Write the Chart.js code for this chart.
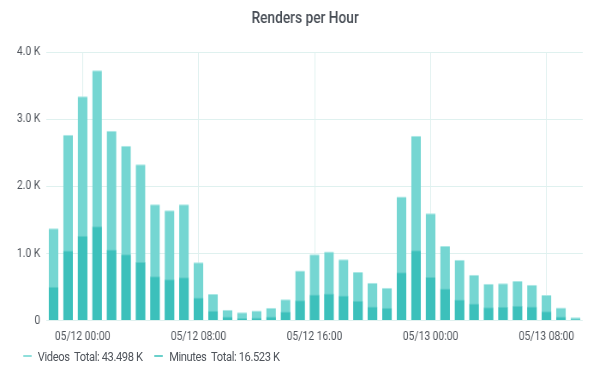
<!DOCTYPE html>
<html>
<head>
<meta charset="utf-8">
<script src="https://cdn.jsdelivr.net/npm/chart.js@4"></script>
<style>
  html, body { margin: 0; padding: 0; background: #fff; overflow: hidden; }
  /* drawn wider, then squeezed to 600px like the original panel */
  #wrap { width: 700px; height: 376px; position: relative; transform: scaleX(0.857); transform-origin: 0 0; }
  #legend {
    position: absolute; left: 27px; top: 348px; height: 16px;
    display: flex; align-items: center;
    font: 13px Roboto, sans-serif; letter-spacing: -0.45px; color: #50555c; white-space: pre;
  }
  #legend .item { display: flex; align-items: center; margin-right: 14px; }
  #legend .mark { width: 10px; height: 2px; margin-right: 7px; }
</style>
</head>
<body>
<div id="wrap">
  <canvas id="rendersChart"></canvas>
  <div id="legend"></div>
</div>
<script>
const hours = [
  "05/11 22:00", "05/11 23:00",
  "05/12 00:00", "05/12 01:00", "05/12 02:00", "05/12 03:00", "05/12 04:00", "05/12 05:00",
  "05/12 06:00", "05/12 07:00", "05/12 08:00", "05/12 09:00", "05/12 10:00", "05/12 11:00",
  "05/12 12:00", "05/12 13:00", "05/12 14:00", "05/12 15:00", "05/12 16:00", "05/12 17:00",
  "05/12 18:00", "05/12 19:00", "05/12 20:00", "05/12 21:00", "05/12 22:00", "05/12 23:00",
  "05/13 00:00", "05/13 01:00", "05/13 02:00", "05/13 03:00", "05/13 04:00", "05/13 05:00",
  "05/13 06:00", "05/13 07:00", "05/13 08:00", "05/13 09:00", "05/13 10:00"
];

const videos = [
  1375, 2770, 3345, 3730, 2830, 2605, 2330, 1735, 1645, 1735, 870, 395, 160, 125, 150, 190,
  320, 745, 990, 1030, 915, 725, 565, 490, 1850, 2755, 1600, 1110, 905, 685, 550, 555,
  590, 535, 380, 195, 50
];

const minutes = [
  505, 1045, 1265, 1405, 1060, 990, 875, 660, 615, 645, 345, 145, 60, 40, 45, 60,
  135, 305, 390, 405, 375, 295, 210, 190, 720, 1050, 650, 480, 315, 255, 200, 205,
  220, 210, 140, 60, 20
];

const yTicks = [0, 1000, 2000, 3000, 4000];
const majorHours = ["00:00", "08:00", "16:00"];
const videosTotal = "43.498 K";
const minutesTotal = "16.523 K";

const gridColor = "#dff1ef";
const textColor = "#50555c";

function isMajorHour(i) {
  const h = hours[i];
  return !!h && majorHours.some((m) => h.endsWith(m));
}

// title nudged sideways without touching the plot area
const shiftTitle = {
  id: "shiftTitle",
  afterLayout(chart) {
    if (chart.titleBlock) {
      chart.titleBlock.left += 16;
      chart.titleBlock.right += 16;
    }
  },
};

const ctx = document.getElementById("rendersChart");

const chart = new Chart(ctx, {
  type: "bar",
  data: {
    labels: hours,
    datasets: [
      {
        label: "Videos",
        total: videosTotal,
        data: videos,
        backgroundColor: "#75d6d2",
        borderColor: "#a9e8e5",
        borderWidth: { top: 1, left: 0, right: 0, bottom: 0 },
        order: 1,
        legendColor: "#8fdfdb",
      },
      {
        label: "Minutes",
        total: minutesTotal,
        data: minutes,
        backgroundColor: "#3cc0bb",
        borderColor: "#5ccbc6",
        borderWidth: { top: 1, left: 0, right: 0, bottom: 0 },
        order: 0,
        legendColor: "#6ad0cb",
      },
    ],
  },
  plugins: [shiftTitle],
  options: {
    responsive: true,
    maintainAspectRatio: false,
    animation: false,
    devicePixelRatio: 1,
    layout: { padding: { top: 6, right: 20, left: 0, bottom: 23 } },
    datasets: {
      bar: { categoryPercentage: 1, barPercentage: 0.67 },
    },
    plugins: {
      title: {
        display: true,
        text: "Renders per Hour",
        color: "#464c54",
        font: { family: "Roboto", size: 16, weight: 500 },
        padding: { top: 3, bottom: 24 },
      },
      tooltip: { enabled: false },
      legend: { display: false },
    },
    scales: {
      x: {
        stacked: true,
        offset: true,
        border: { display: false },
        grid: {
          offset: false,
          drawTicks: false,
          color: (c) => (isMajorHour(c.index) ? gridColor : "rgba(0,0,0,0)"),
        },
        ticks: {
          autoSkip: false,
          maxRotation: 0,
          padding: 9,
          color: textColor,
          font: { family: "Roboto", size: 12 },
          callback: function (value, index) {
            return isMajorHour(index) ? hours[index] : "";
          },
        },
      },
      y: {
        stacked: false,
        min: 0,
        max: 4000,
        border: { display: false },
        afterFit(scale) {
          scale.width = 54;
        },
        afterBuildTicks(scale) {
          scale.ticks = yTicks.map((v) => ({ value: v }));
        },
        grid: { color: gridColor, drawTicks: false },
        ticks: {
          padding: 7,
          color: textColor,
          font: { family: "Roboto", size: 12 },
          callback: (v) => (v === 0 ? "0" : (v / 1000).toFixed(1) + " K"),
        },
      },
    },
  },
});

// legend as plain html below the chart
const legendEl = document.getElementById("legend");
chart.data.datasets.forEach((ds) => {
  const item = document.createElement("span");
  item.className = "item";
  const mark = document.createElement("span");
  mark.className = "mark";
  mark.style.background = ds.legendColor;
  const text = document.createElement("span");
  text.textContent = ds.label + "  Total: " + ds.total;
  item.appendChild(mark);
  item.appendChild(text);
  legendEl.appendChild(item);
});
</script>
</body>
</html>
